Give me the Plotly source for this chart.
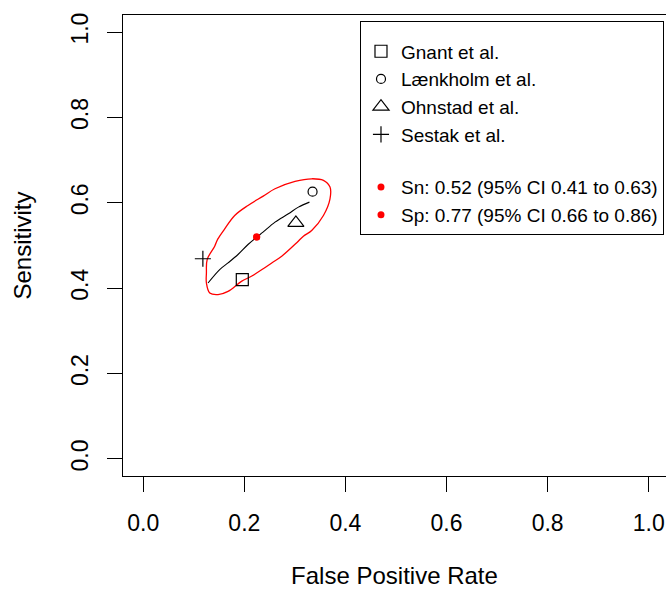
import plotly.graph_objects as go

# ---- data ----
studies = ["Gnant et al.", "Lænkholm et al.", "Ohnstad et al.", "Sestak et al."]
study_fpr = [0.196, 0.335, 0.302, 0.118]
study_sens = [0.420, 0.626, 0.553, 0.469]

summary_fpr = [0.2245]
summary_sens = [0.520]
summary_labels = ["Sn: 0.52 (95% CI 0.41 to 0.63)", "Sp: 0.77 (95% CI 0.66 to 0.86)"]

# SROC curve
sroc_fpr = [0.1282, 0.1513, 0.1678, 0.1875, 0.2073, 0.2245, 0.2370, 0.2607, 0.2872, 0.3070, 0.3288]
sroc_sens = [0.4122, 0.4437, 0.4592, 0.4789, 0.5023, 0.5195, 0.5312, 0.5547, 0.5742, 0.5899, 0.6016]

# confidence region
region_fpr = [0.3695, 0.3695, 0.3565, 0.3333, 0.3169, 0.3037, 0.2740, 0.2542, 0.2374, 0.2140,
              0.1943, 0.1678, 0.1480, 0.1316, 0.1250, 0.1250, 0.1266, 0.1414, 0.1474, 0.1612,
              0.1810, 0.2073, 0.2374, 0.2607, 0.3003, 0.3333, 0.3565, 0.3695]
region_sens = [0.6369, 0.6094, 0.5704, 0.5352, 0.5218, 0.5066, 0.4749, 0.4592, 0.4455, 0.4279,
               0.4160, 0.3927, 0.3850, 0.3887, 0.4122, 0.4357, 0.4676, 0.4984, 0.5148, 0.5390,
               0.5704, 0.5939, 0.6157, 0.6329, 0.6502, 0.6563, 0.6526, 0.6369]

tick_vals = [0.0, 0.2, 0.4, 0.6, 0.8, 1.0]
tick_text = ["0.0", "0.2", "0.4", "0.6", "0.8", "1.0"]

# ---- styles ----
FONT = "Liberation Sans, Arial, sans-serif"
symbols = ["square-open", "circle-open", "triangle-up-open", "cross-thin-open"]
sizes = [12, 9, 14, 11.5]

fig = go.Figure()

fig.add_trace(go.Scatter(
    x=region_fpr, y=region_sens, mode="lines",
    line=dict(color="#ff0000", width=1.3, shape="spline", smoothing=1.0),
    showlegend=False, hoverinfo="skip"))

fig.add_trace(go.Scatter(
    x=sroc_fpr, y=sroc_sens, mode="lines",
    line=dict(color="black", width=1.1, shape="spline"),
    showlegend=False, hoverinfo="skip"))

for i, name in enumerate(studies):
    fig.add_trace(go.Scatter(
        x=[study_fpr[i]], y=[study_sens[i]], mode="markers", name=name,
        legendgroup="studies",
        marker=dict(symbol=symbols[i], size=sizes[i], color="black",
                    line=dict(color="black", width=1.2))))

for lab in summary_labels:
    fig.add_trace(go.Scatter(
        x=summary_fpr, y=summary_sens, mode="markers", name=lab,
        legendgroup="summary",
        marker=dict(symbol="circle", size=7, color="#ff0000")))

axis_common = dict(
    tickmode="array", tickvals=tick_vals, ticktext=tick_text,
    ticks="outside", ticklen=15, tickwidth=1, tickcolor="black",
    showline=True, linecolor="black", linewidth=1,
    showgrid=False, zeroline=False,
    tickfont=dict(family=FONT, size=23, color="black"),
)

fig.update_layout(
    width=666, height=589,
    margin=dict(l=123, r=0, t=15, b=113),
    paper_bgcolor="white", plot_bgcolor="white",
    font=dict(family=FONT, color="black"),
    xaxis=dict(range=[-0.04, 1.0342], mirror=True, ticklabelstandoff=11,
               title=dict(text="False Positive Rate", font=dict(family=FONT, size=24), standoff=34),
               **axis_common),
    yaxis=dict(range=[-0.04, 1.04], mirror=False, tickangle=-90, ticklabelstandoff=10,
               title=dict(text="Sensitivity", font=dict(family=FONT, size=24), standoff=28),
               **axis_common),
    legend=dict(
        x=0.9963, xanchor="right", y=0.987, yanchor="top",
        bgcolor="white", bordercolor="black", borderwidth=1,
        font=dict(family=FONT, size=19, color="black"),
        traceorder="grouped", tracegroupgap=25,
        title=dict(text=" ", font=dict(size=8)),
    ),
)

fig.write_html(
    "out.html",
    config={"displayModeBar": False},
    post_script="document.body.style.margin='0';document.body.style.overflow='hidden';",
)
